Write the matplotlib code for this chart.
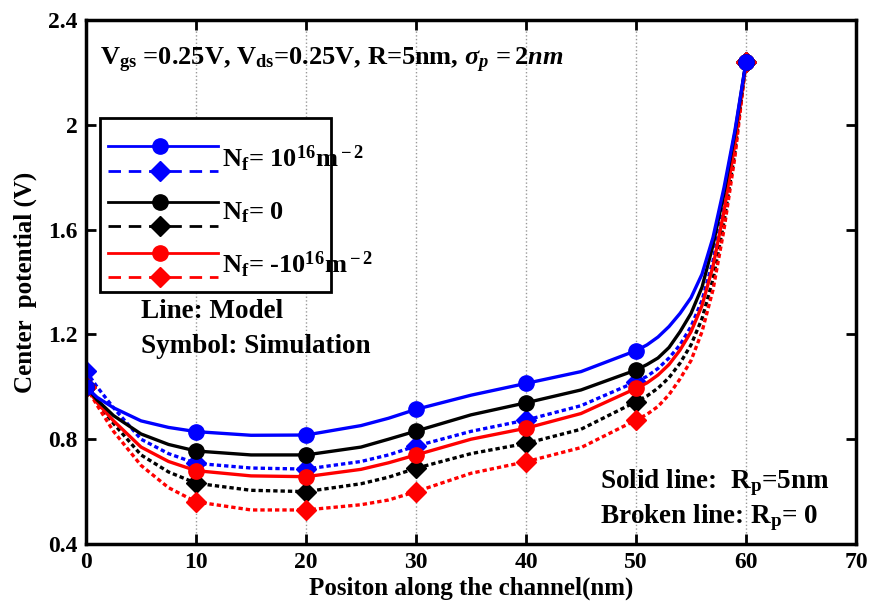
import numpy as np
import matplotlib
matplotlib.use("Agg")
import matplotlib.pyplot as plt
from matplotlib.lines import Line2D
from matplotlib.patches import Rectangle

plt.rcParams['font.family'] = ['Liberation Serif', 'DejaVu Serif']
plt.rcParams['font.weight'] = 'bold'
plt.rcParams['mathtext.fontset'] = 'custom'
plt.rcParams['mathtext.rm'] = 'Liberation Serif:bold'
plt.rcParams['mathtext.bf'] = 'Liberation Serif:bold'
plt.rcParams['mathtext.it'] = 'Liberation Serif:italic'

# simulation symbols
x_sym = [0, 10, 20, 30, 40, 50, 60]
sym_pos_rp5 = [1.00, 0.829, 0.816, 0.914, 1.013, 1.138, 2.24]
sym_pos_rp0 = [1.06, 0.708, 0.686, 0.774, 0.873, 1.019, 2.24]
sym_zero_rp5 = [1.00, 0.755, 0.740, 0.831, 0.939, 1.064, 2.24]
sym_zero_rp0 = [1.00, 0.632, 0.600, 0.689, 0.784, 0.943, 2.24]
sym_neg_rp5 = [1.00, 0.680, 0.657, 0.740, 0.842, 0.994, 2.24]
sym_neg_rp0 = [1.00, 0.561, 0.530, 0.600, 0.714, 0.873, 2.24]

# model lines
x_mod = [0, 1, 2.5, 5, 7.5, 10, 15, 20, 25, 27.5, 30, 35, 40, 45, 50,
         51, 52, 53, 54, 55, 56, 57, 58, 59, 60]
mod_pos_rp5 = [1.00, 0.96, 0.92, 0.87, 0.845, 0.829, 0.815, 0.816, 0.852, 0.88, 0.914, 0.968, 1.013, 1.058, 1.138,
               1.16, 1.19, 1.23, 1.28, 1.34, 1.43, 1.57, 1.76, 1.98, 2.24]
mod_pos_rp0 = [1.06, 1.0, 0.92, 0.80, 0.745, 0.708, 0.690, 0.686, 0.715, 0.74, 0.774, 0.830, 0.873, 0.928, 1.019,
               1.04, 1.07, 1.11, 1.16, 1.23, 1.33, 1.48, 1.69, 1.94, 2.24]
mod_zero_rp5 = [1.00, 0.95, 0.89, 0.82, 0.78, 0.755, 0.740, 0.740, 0.770, 0.80, 0.831, 0.893, 0.939, 0.988, 1.064,
                1.085, 1.11, 1.15, 1.21, 1.28, 1.38, 1.54, 1.74, 1.97, 2.24]
mod_zero_rp0 = [1.00, 0.94, 0.86, 0.74, 0.675, 0.632, 0.605, 0.600, 0.630, 0.655, 0.689, 0.745, 0.784, 0.838, 0.943,
                0.965, 0.995, 1.035, 1.09, 1.16, 1.26, 1.41, 1.63, 1.90, 2.24]
mod_neg_rp5 = [1.00, 0.94, 0.87, 0.77, 0.715, 0.680, 0.660, 0.657, 0.685, 0.71, 0.740, 0.800, 0.842, 0.898, 0.994,
               1.015, 1.045, 1.085, 1.14, 1.21, 1.31, 1.46, 1.67, 1.93, 2.24]
mod_neg_rp0 = [1.00, 0.93, 0.83, 0.70, 0.615, 0.561, 0.530, 0.530, 0.550, 0.568, 0.600, 0.670, 0.714, 0.768, 0.873,
               0.895, 0.925, 0.97, 1.03, 1.10, 1.21, 1.37, 1.60, 1.88, 2.24]

x_ticks = [0, 10, 20, 30, 40, 50, 60, 70]
y_ticks = [0.4, 0.8, 1.2, 1.6, 2.0, 2.4]
y_tick_labels = ['0.4', '0.8', '1.2', '1.6', '2', '2.4']

dot = (0, (1.3, 0.9))
leg_dash = (0, (4.5, 2.8))
lw = 2.4

fig = plt.figure(figsize=(8.7, 6.09), dpi=100)
ax = fig.add_axes([0.0989, 0.1067, 0.885, 0.8605])

# grid first
ax.set_axisbelow(True)
ax.grid(axis='x', color='#999999', linestyle=':', linewidth=1.0)

# broken lines (Rp = 0)
for xm, ym, xs, ys, c in [(x_mod, mod_pos_rp0, x_sym, sym_pos_rp0, 'blue'),
                          (x_mod, mod_zero_rp0, x_sym, sym_zero_rp0, 'black'),
                          (x_mod, mod_neg_rp0, x_sym, sym_neg_rp0, 'red')]:
    ax.plot(xm, ym, color=c, linestyle=dot, linewidth=lw)
    ax.plot(xs, ys, color=c, linestyle='none', marker='D', markersize=10)

# solid lines (Rp = 5nm)
for xm, ym, xs, ys, c in [(x_mod, mod_neg_rp5, x_sym, sym_neg_rp5, 'red'),
                          (x_mod, mod_zero_rp5, x_sym, sym_zero_rp5, 'black'),
                          (x_mod, mod_pos_rp5, x_sym, sym_pos_rp5, 'blue')]:
    ax.plot(xm, ym, color=c, linestyle='-', linewidth=lw)
    ax.plot(xs, ys, color=c, linestyle='none', marker='o', markersize=11)

ax.set_xlim(0, 70)
ax.set_ylim(0.4, 2.4)
ax.set_xticks(x_ticks)
ax.set_yticks(y_ticks)
ax.set_yticklabels(y_tick_labels)
ax.tick_params(direction='in', length=7, width=2, labelsize=17, top=True, right=True, pad=6)
for lab in ax.get_xticklabels() + ax.get_yticklabels():
    lab.set_fontweight('bold')
for s in ax.spines.values():
    s.set_linewidth(2.5)

ax.set_xlabel("Positon along the channel(nm)", fontsize=18, fontweight='bold', labelpad=2)
ax.set_ylabel("Center  potential (V)", fontsize=18, fontweight='bold', labelpad=8)

# hand-made legend
ax.add_patch(Rectangle((0.0182, 0.481), 0.30, 0.332, transform=ax.transAxes,
                       fill=True, facecolor='white', edgecolor='black', linewidth=2, zorder=5))
leg_items = [('blue', '-', 'o', 0.7595), ('blue', leg_dash, 'D', 0.7118),
             ('black', '-', 'o', 0.6527), ('black', leg_dash, 'D', 0.6069),
             ('red', '-', 'o', 0.5553), ('red', leg_dash, 'D', 0.5095)]
for c, ls, mk, yy in leg_items:
    ax.add_line(Line2D([0.0286, 0.1714], [yy, yy], transform=ax.transAxes, color=c,
                       linestyle=ls, linewidth=2, zorder=6))
    ax.add_line(Line2D([0.0961], [yy], transform=ax.transAxes, color=c, marker=mk,
                       markersize=11 if mk == 'o' else 10, zorder=7))
ax.text(0.176, 0.735, r"N$_{\rm f}$= 10$^{\rm 16}$m$^{\rm -2}$", transform=ax.transAxes,
        fontsize=19, va='center', zorder=8)
ax.text(0.176, 0.632, r"N$_{\rm f}$= 0", transform=ax.transAxes, fontsize=19, va='center', zorder=8)
ax.text(0.176, 0.532, r"N$_{\rm f}$= -10$^{\rm 16}$m$^{\rm -2}$", transform=ax.transAxes,
        fontsize=19, va='center', zorder=8)

ax.text(0.071, 0.443, "Line: Model", transform=ax.transAxes, fontsize=19.5, va='center')
ax.text(0.071, 0.376, "Symbol: Simulation", transform=ax.transAxes, fontsize=19.5, va='center')

ax.text(0.018, 0.923, r"V$_{\rm gs}$ =0.25V, V$_{\rm ds}$=0.25V, R=5nm, $\sigma_p\,= 2nm$",
        transform=ax.transAxes, fontsize=19, va='center')

ax.text(0.667, 0.118, r"Solid line:  R$_{\rm p}$=5nm", transform=ax.transAxes, fontsize=19.5, va='center')
ax.text(0.667, 0.051, r"Broken line: R$_{\rm p}$= 0", transform=ax.transAxes, fontsize=19.5, va='center')

fig.savefig("out.png", dpi=100)
